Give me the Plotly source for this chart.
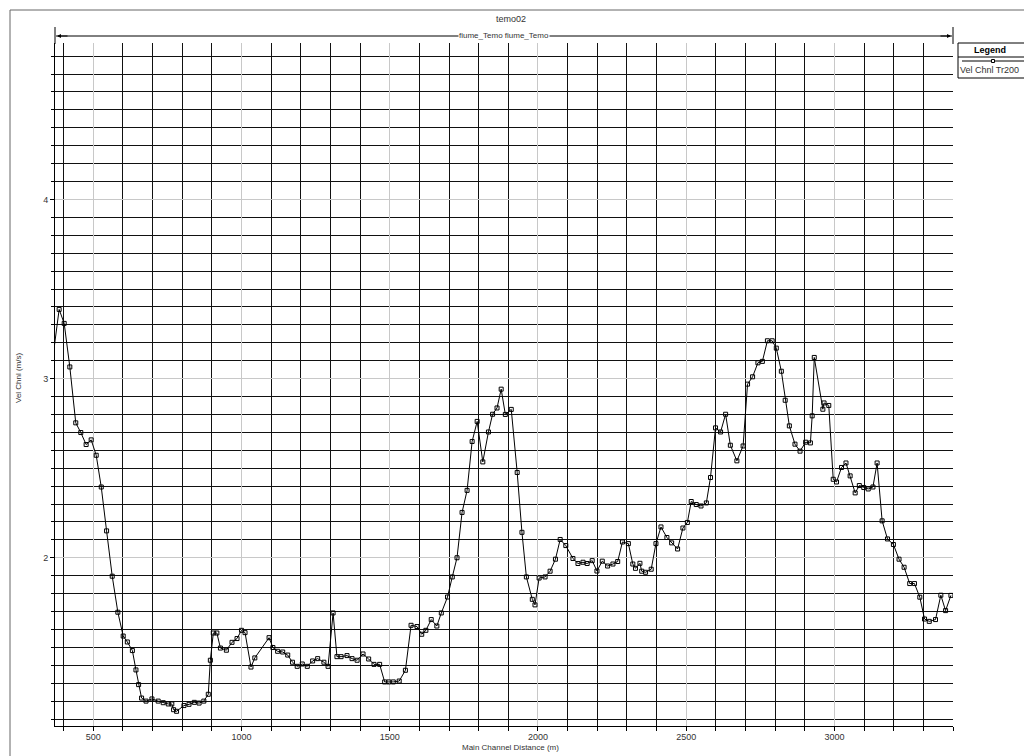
import plotly.graph_objects as go

# ---- data ----
distance = [360, 385, 402, 421, 441, 458, 476, 493, 510, 527, 545, 564, 583, 601, 615, 632, 644, 653, 663,
            678, 698, 719, 736, 753, 765, 771, 781, 806, 823, 841, 857, 873, 888, 895, 905, 917, 929, 949,
            968, 985, 1000, 1012, 1032, 1045, 1093, 1106, 1122, 1139, 1156, 1172, 1188, 1205, 1222, 1240,
            1257, 1278, 1292, 1309, 1322, 1336, 1356, 1373, 1390, 1410, 1429, 1447, 1466, 1483, 1497, 1512,
            1532, 1553, 1572, 1592, 1608, 1622, 1640, 1659, 1674, 1695, 1711, 1727, 1744, 1761, 1778, 1795,
            1814, 1833, 1847, 1862, 1876, 1890, 1910, 1930, 1946, 1961, 1981, 1990, 2004, 2024, 2041, 2059,
            2075, 2094, 2118, 2135, 2152, 2166, 2183, 2199, 2217, 2235, 2253, 2269, 2285, 2305, 2320, 2329,
            2344, 2350, 2363, 2382, 2398, 2415, 2435, 2451, 2471, 2489, 2504, 2517, 2534, 2550, 2568, 2582,
            2599, 2616, 2633, 2649, 2671, 2692, 2707, 2724, 2742, 2757, 2774, 2790, 2804, 2821, 2834, 2848,
            2867, 2884, 2903, 2919, 2925, 2932, 2961, 2965, 2981, 2996, 3007, 3024, 3039, 3053, 3070, 3084,
            3099, 3114, 3130, 3144, 3161, 3179, 3199, 3218, 3235, 3254, 3270, 3288, 3304, 3320, 3341, 3359,
            3375, 3393]
vel_chnl = [3.07, 3.386, 3.308, 3.065, 2.753, 2.699, 2.632, 2.658, 2.572, 2.395, 2.150, 1.897, 1.696, 1.563,
            1.530, 1.482, 1.374, 1.292, 1.217, 1.200, 1.212, 1.200, 1.191, 1.184, 1.184, 1.152, 1.143, 1.175,
            1.182, 1.193, 1.189, 1.200, 1.238, 1.428, 1.580, 1.580, 1.496, 1.484, 1.528, 1.549, 1.595, 1.582,
            1.390, 1.441, 1.554, 1.499, 1.478, 1.474, 1.457, 1.417, 1.394, 1.407, 1.394, 1.424, 1.437, 1.417,
            1.394, 1.692, 1.448, 1.448, 1.454, 1.437, 1.428, 1.463, 1.435, 1.405, 1.405, 1.307, 1.307, 1.307,
            1.312, 1.372, 1.623, 1.616, 1.573, 1.595, 1.655, 1.619, 1.692, 1.781, 1.893, 2.000, 2.253, 2.376,
            2.649, 2.761, 2.535, 2.702, 2.801, 2.836, 2.941, 2.800, 2.828, 2.476, 2.142, 1.893, 1.768, 1.737,
            1.887, 1.893, 1.925, 1.992, 2.102, 2.068, 1.996, 1.968, 1.975, 1.968, 1.984, 1.926, 1.981, 1.954,
            1.965, 1.979, 2.088, 2.079, 1.965, 1.941, 1.969, 1.925, 1.919, 1.936, 2.079, 2.172, 2.113, 2.083,
            2.049, 2.166, 2.197, 2.314, 2.297, 2.289, 2.306, 2.448, 2.725, 2.702, 2.801, 2.628, 2.541, 2.624,
            2.969, 3.010, 3.088, 3.096, 3.211, 3.211, 3.170, 3.041, 2.879, 2.736, 2.634, 2.595, 2.645, 2.641,
            2.792, 3.118, 2.829, 2.864, 2.850, 2.438, 2.423, 2.504, 2.529, 2.457, 2.362, 2.403, 2.392, 2.384,
            2.395, 2.529, 2.206, 2.105, 2.074, 1.992, 1.947, 1.856, 1.856, 1.780, 1.658, 1.645, 1.655, 1.791,
            1.705, 1.790]
series_name = "Vel Chnl Tr200"
chart_title = "temo02"
reach_label = "fiume_Temo fiume_Temo"
x_title = "Main Channel Distance (m)"
y_title = "Vel Chnl (m/s)"

# ---- layout geometry (pixels) ----
W, H = 1024, 756
L, R, T, B = 55, 953, 43, 726
PW, PH = R - L, B - T


def px(x):
    return (x - L) / PW


def py(y):
    return (B - y) / PH


FONT = "Arial, Liberation Sans, sans-serif"
TXT = "#333333"

fig = go.Figure()
fig.add_trace(go.Scatter(
    x=distance, y=vel_chnl, mode="lines+markers", name=series_name,
    line=dict(color="black", width=1),
    marker=dict(symbol="square-open", size=4, color="black", line=dict(width=1)),
    showlegend=False, cliponaxis=True,
))

axis_common = dict(
    showline=True, linecolor="black", linewidth=1, mirror=False,
    ticks="outside", ticklen=4, tickcolor="black", zeroline=False,
    showgrid=True, gridcolor="#c8c8c8", gridwidth=1,
    tickfont=dict(family=FONT, size=9, color=TXT),
)
fig.update_xaxes(range=[371, 3400], tick0=0, dtick=500, ticklabelstandoff=-2,
                 minor=dict(dtick=100, tick0=0, showgrid=True, gridcolor="#111111", gridwidth=1,
                            ticks="outside", ticklen=4, tickcolor="black"),
                 **axis_common)
fig.update_yaxes(range=[1.061, 4.873], tick0=0, dtick=1,
                 minor=dict(dtick=0.1, tick0=0, showgrid=True, gridcolor="#111111", gridwidth=1,
                            ticks="outside", ticklen=3, tickcolor="black"),
                 **axis_common)

shapes = []
annotations = []
# outer frame
shapes.append(dict(type="rect", xref="paper", yref="paper", x0=px(10), x1=px(1040), y0=py(770), y1=py(10),
                   line=dict(color="#666666", width=1)))
# reach arrow line
shapes.append(dict(type="line", xref="paper", yref="paper", x0=px(56), x1=px(952), y0=py(36), y1=py(36),
                   line=dict(color="black", width=1)))
shapes.append(dict(type="line", xref="paper", yref="paper", x0=px(55), x1=px(55), y0=py(27), y1=py(44),
                   line=dict(color="black", width=1)))
shapes.append(dict(type="line", xref="paper", yref="paper", x0=px(953), x1=px(953), y0=py(27), y1=py(44),
                   line=dict(color="black", width=1)))
for xe, axo in ((57, 12), (951, -12)):
    annotations.append(dict(xref="paper", yref="paper", x=px(xe), y=py(36), ax=axo, ay=0, text="",
                            showarrow=True, arrowhead=2, arrowsize=0.8, arrowwidth=1, arrowcolor="black"))
annotations.append(dict(xref="paper", yref="paper", x=px(504), y=py(36), text=reach_label, showarrow=False,
                        font=dict(family=FONT, size=8, color=TXT), bgcolor="white", borderpad=0,
                        xanchor="center", yanchor="middle"))
# title
annotations.append(dict(xref="paper", yref="paper", x=px(511), y=py(19), text=chart_title, showarrow=False,
                        font=dict(family=FONT, size=9, color=TXT), xanchor="center", yanchor="middle"))
# axis titles
annotations.append(dict(xref="paper", yref="paper", x=px(510), y=py(747), text=x_title, showarrow=False,
                        font=dict(family=FONT, size=8, color=TXT), xanchor="center", yanchor="middle"))
annotations.append(dict(xref="paper", yref="paper", x=px(18), y=py(378), text=y_title, showarrow=False,
                        textangle=-90, font=dict(family=FONT, size=8, color=TXT),
                        xanchor="center", yanchor="middle"))
# legend box
shapes.append(dict(type="rect", xref="paper", yref="paper", x0=px(958), x1=px(1040), y0=py(78), y1=py(43),
                   line=dict(color="black", width=1), fillcolor="white"))
shapes.append(dict(type="line", xref="paper", yref="paper", x0=px(958), x1=px(1040), y0=py(57), y1=py(57),
                   line=dict(color="black", width=1)))
shapes.append(dict(type="line", xref="paper", yref="paper", x0=px(962), x1=px(1024), y0=py(61), y1=py(61),
                   line=dict(color="black", width=1)))
shapes.append(dict(type="rect", xref="paper", yref="paper", x0=px(991.5), x1=px(994.5), y0=py(62.5), y1=py(59.5),
                   line=dict(color="black", width=1), fillcolor="white"))
annotations.append(dict(xref="paper", yref="paper", x=px(990), y=py(50), text="<b>Legend</b>", showarrow=False,
                        font=dict(family=FONT, size=9, color="black"), xanchor="center", yanchor="middle"))
annotations.append(dict(xref="paper", yref="paper", x=px(958), y=py(70), text=series_name, showarrow=False,
                        font=dict(family=FONT, size=9, color=TXT), xanchor="left", yanchor="middle"))

fig.update_layout(
    width=W, height=H,
    margin=dict(l=L, r=W - R, t=T, b=H - B, pad=0),
    paper_bgcolor="white", plot_bgcolor="white",
    shapes=shapes, annotations=annotations,
    font=dict(family=FONT, size=9, color=TXT),
    showlegend=False,
)

fig.write_html("out.html", config={"displayModeBar": False},
               post_script="document.body.style.margin='0';document.body.style.overflow='hidden';")
